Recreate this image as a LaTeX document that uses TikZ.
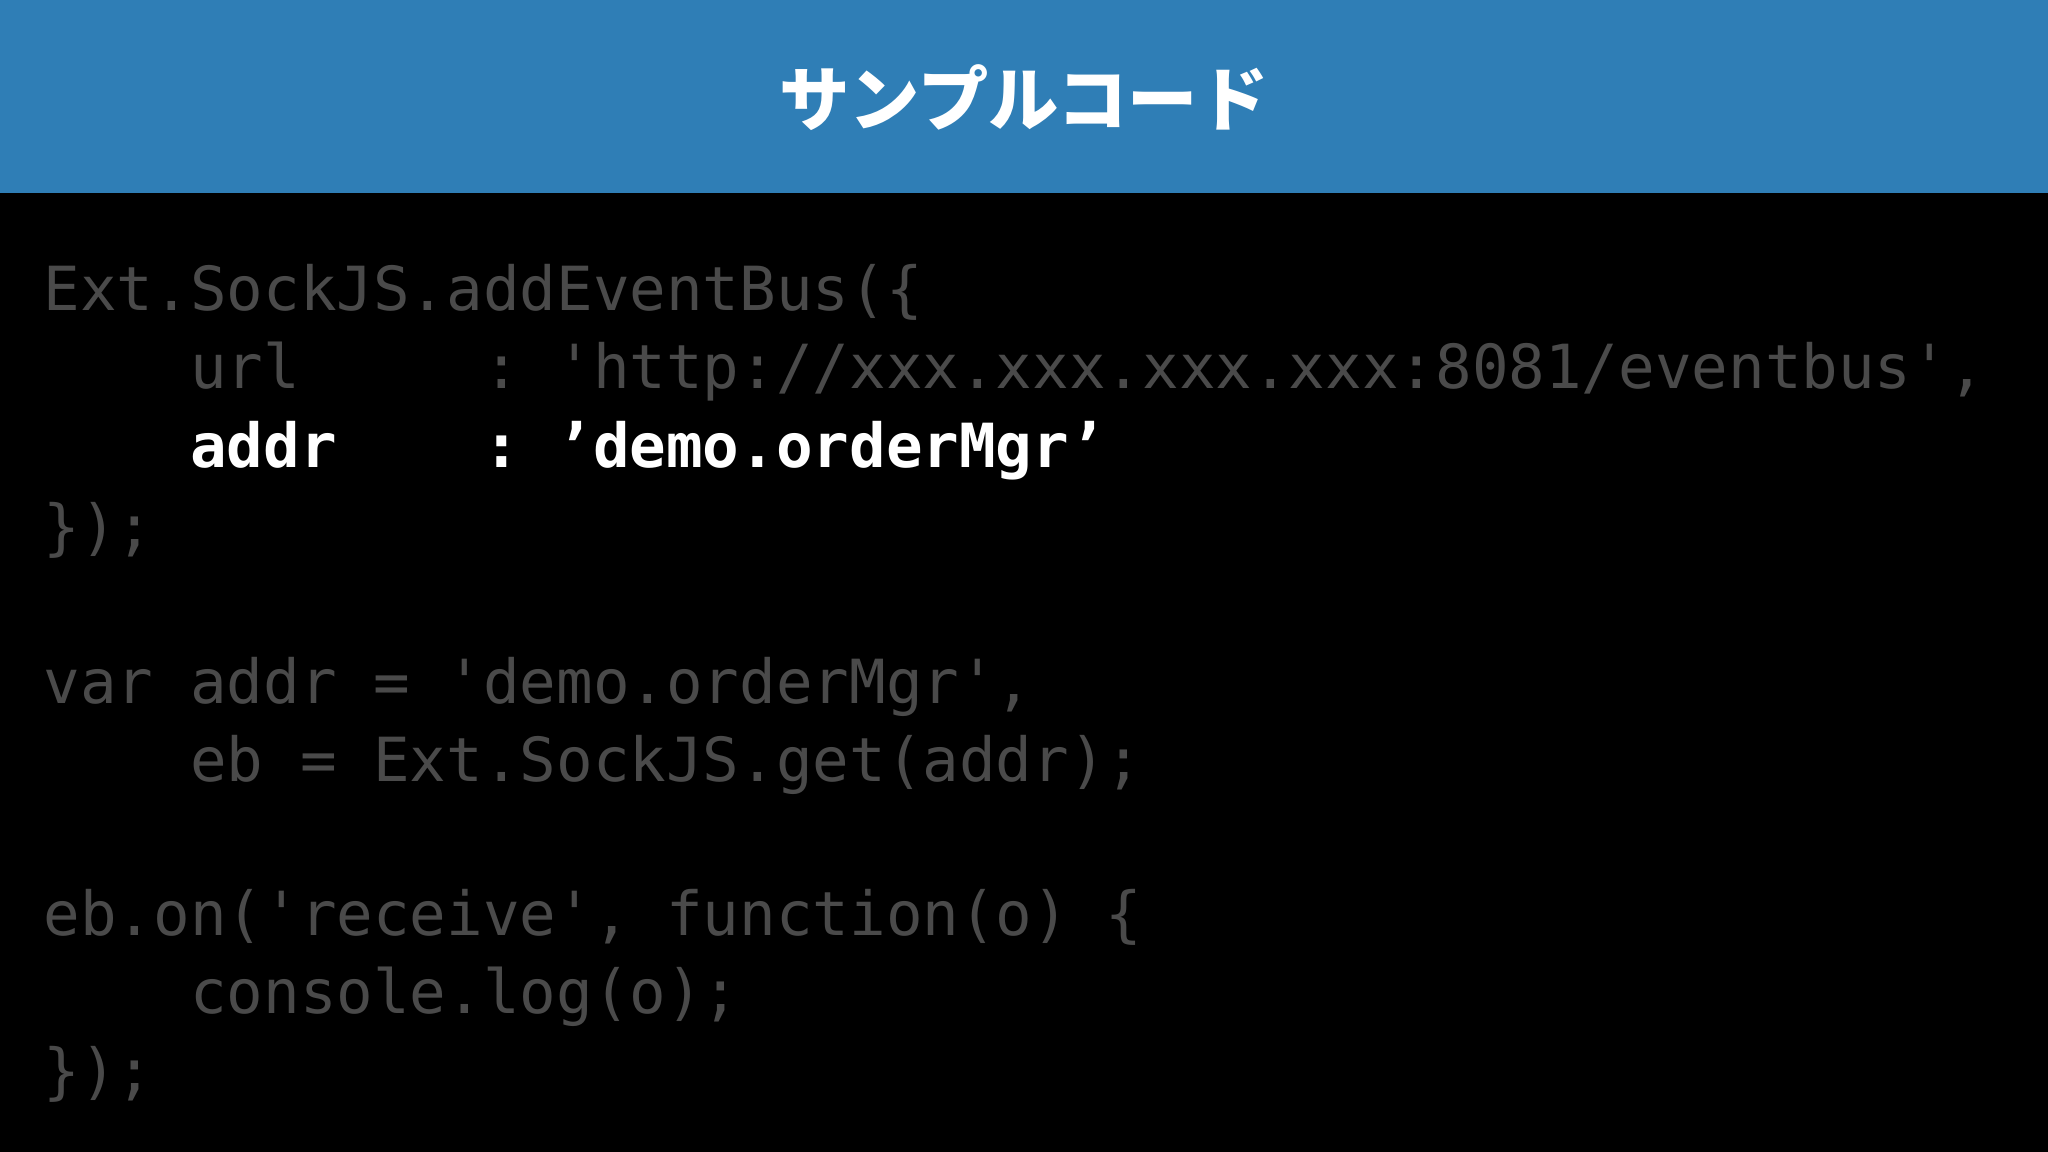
\documentclass[tikz,border=0pt]{standalone}
\usepackage{fontspec}
\newfontfamily\jp{Noto Sans CJK JP}
\newfontfamily\code{DejaVu Sans Mono}
\definecolor{hdr}{HTML}{2F7EB6}
\definecolor{dim}{HTML}{4A4A4A}
\begin{document}
\begin{tikzpicture}[x=0.01cm,y=-0.01cm,
  ln/.style={anchor=base west,inner sep=0,text=dim,font=\code\fontsize{17.3}{20}\selectfont},
  hl/.style={ln,text=white,font=\code\bfseries\fontsize{17.3}{20}\selectfont}]
\fill[black] (0,0) rectangle (2048,1152);
\fill[hdr] (0,0) rectangle (2048,193);
\useasboundingbox (0,0) rectangle (2048,1152);
\node[text=white,font=\jp\bfseries\fontsize{20}{24}\selectfont] (title) at (1024,98) {サンプルコード};
\node[ln] (l1) at (43,311) {Ext.SockJS.addEventBus(\{};
\node[ln] (l2) at (43,389) {~~~~url~~~~~:~'http://xxx.xxx.xxx.xxx:8081/eventbus',};
\node[hl] (l3) at (43,468) {~~~~addr~~~~:~’demo.orderMgr’};
\node[ln] (l4) at (43,549) {\});};
\node[ln] (l5) at (43,703) {var~addr~=~'demo.orderMgr',};
\node[ln] (l6) at (43,781) {~~~~eb~=~Ext.SockJS.get(addr);};
\node[ln] (l7) at (43,935) {eb.on('receive',~function(o)~\{};
\node[ln] (l8) at (43,1013) {~~~~console.log(o);};
\node[ln] (l9) at (43,1092) {\});};
\end{tikzpicture}
\end{document}
